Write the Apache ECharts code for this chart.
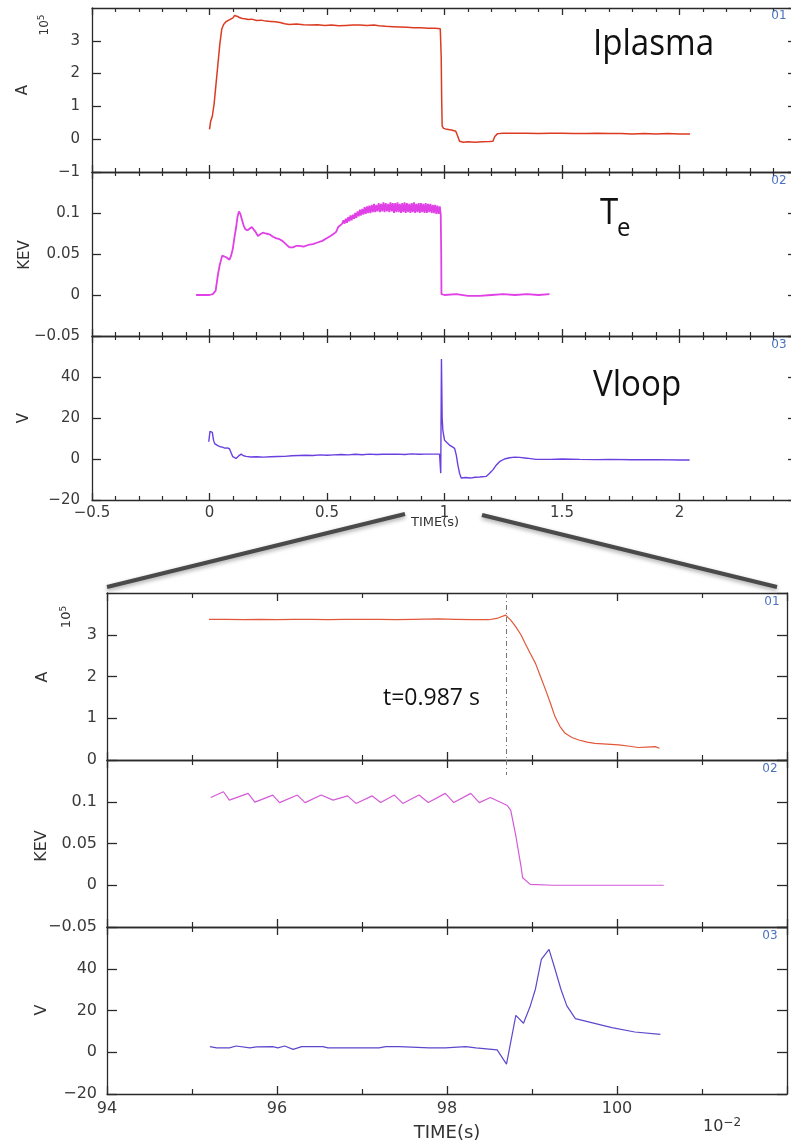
<!DOCTYPE html>
<html><head><meta charset="utf-8">
<script src="https://cdn.jsdelivr.net/npm/echarts@6/dist/echarts.min.js"></script>
<style>html,body{margin:0;padding:0;background:#fff}#c{width:791px;height:1146px}</style>
</head><body><div id="c"></div>
<script>
// ---------- overview shot (time in s) ----------
const ipTime = [0.000,0.005,0.012,0.020,0.028,0.036,0.044,0.052,0.060,0.070,0.080,0.090,0.100,0.106,0.112,0.120,0.130,0.140,0.150,0.165,0.180,0.200,0.220,0.240,0.260,0.280,0.300,0.320,0.340,0.370,0.400,0.430,0.460,0.490,0.520,0.550,0.580,0.610,0.640,0.670,0.700,0.720,0.750,0.780,0.810,0.840,0.870,0.900,0.930,0.960,0.982,0.986,0.988,0.990,0.996,1.010,1.030,1.048,1.056,1.064,1.080,1.100,1.130,1.160,1.190,1.206,1.214,1.226,1.250,1.300,1.350,1.400,1.450,1.500,1.550,1.600,1.650,1.700,1.750,1.800,1.850,1.900,1.950,2.000,2.045];
const ipAmp = [0.30,0.55,0.70,1.10,1.70,2.30,2.90,3.35,3.50,3.58,3.62,3.66,3.70,3.77,3.72,3.74,3.70,3.68,3.67,3.65,3.66,3.62,3.63,3.60,3.59,3.58,3.56,3.52,3.50,3.51,3.49,3.48,3.49,3.47,3.48,3.46,3.47,3.48,3.48,3.47,3.48,3.46,3.44,3.43,3.42,3.41,3.40,3.40,3.38,3.38,3.37,2.50,1.20,0.40,0.33,0.30,0.28,0.24,0.10,-0.06,-0.09,-0.08,-0.09,-0.08,-0.07,-0.06,0.08,0.17,0.18,0.18,0.18,0.17,0.18,0.18,0.17,0.17,0.18,0.17,0.17,0.16,0.17,0.16,0.17,0.16,0.16];

const teTime = [-0.057,-0.030,0.000,0.014,0.026,0.036,0.043,0.054,0.062,0.071,0.085,0.092,0.099,0.106,0.113,0.119,0.125,0.131,0.139,0.146,0.153,0.162,0.170,0.180,0.187,0.196,0.206,0.216,0.227,0.240,0.255,0.270,0.285,0.298,0.310,0.325,0.340,0.355,0.370,0.383,0.400,0.420,0.440,0.460,0.480,0.497,0.515,0.530,0.539,0.548,0.556,0.565,
0.570,0.575,0.580,0.585,0.590,0.595,0.600,0.605,0.610,0.615,0.620,0.625,0.630,0.635,0.640,0.645,0.650,0.655,0.660,0.665,0.670,0.675,0.680,0.685,0.690,0.695,0.700,0.705,0.710,0.715,0.720,0.725,0.730,0.735,0.740,0.745,0.750,0.755,0.760,0.765,0.770,0.775,0.780,0.785,0.790,0.795,0.800,0.805,0.810,0.815,0.820,0.825,0.830,0.835,0.840,0.845,0.850,0.855,0.860,0.865,0.870,0.875,0.880,0.885,0.890,0.895,0.900,0.905,0.910,0.915,0.920,0.925,0.930,0.935,0.940,0.945,0.950,0.955,0.960,0.965,0.970,0.975,0.980,0.984,0.986,0.987,1.000,1.050,1.100,1.150,1.200,1.250,1.300,1.350,1.400,1.447];
const teKev = [0.000,0.000,0.000,0.001,0.005,0.025,0.036,0.048,0.047,0.046,0.043,0.048,0.056,0.070,0.082,0.095,0.102,0.099,0.091,0.084,0.080,0.079,0.081,0.083,0.085,0.077,0.072,0.074,0.076,0.075,0.074,0.071,0.069,0.068,0.066,0.062,0.058,0.058,0.060,0.060,0.059,0.061,0.062,0.064,0.066,0.069,0.072,0.075,0.077,0.083,0.085,0.087,
0.091,0.087,0.093,0.088,0.095,0.090,0.097,0.091,0.098,0.093,0.100,0.094,0.102,0.096,0.104,0.097,0.105,0.098,0.107,0.099,0.108,0.100,0.109,0.100,0.110,0.101,0.111,0.101,0.110,0.102,0.112,0.101,0.111,0.102,0.113,0.101,0.112,0.102,0.111,0.101,0.113,0.102,0.112,0.100,0.112,0.101,0.113,0.101,0.111,0.100,0.112,0.101,0.113,0.100,0.112,0.101,0.111,0.100,0.112,0.101,0.113,0.100,0.111,0.101,0.112,0.100,0.112,0.101,0.111,0.100,0.112,0.100,0.111,0.101,0.111,0.100,0.110,0.100,0.110,0.099,0.109,0.099,0.108,0.098,0.050,0.001,0.000,0.001,-0.001,-0.001,0.000,0.001,0.000,0.001,0.000,0.001];

const vlTime = [-0.003,0.002,0.008,0.012,0.017,0.022,0.026,0.035,0.045,0.055,0.065,0.075,0.085,0.092,0.099,0.106,0.113,0.124,0.135,0.145,0.156,0.175,0.200,0.230,0.260,0.290,0.320,0.350,0.380,0.410,0.440,0.470,0.500,0.530,0.560,0.590,0.620,0.650,0.680,0.710,0.740,0.770,0.800,0.830,0.860,0.890,0.920,0.950,0.979,0.984,0.987,0.990,0.993,1.000,1.010,1.021,1.032,1.043,1.050,1.057,1.064,1.071,1.090,1.110,1.130,1.150,1.177,1.190,1.206,1.220,1.234,1.255,1.277,1.300,1.320,1.350,1.390,1.450,1.500,1.576,1.650,1.700,1.800,1.900,2.000,2.043];
const vlVolt = [8.4,13.5,14.2,13.0,9.2,7.5,6.8,6.5,6.0,5.8,5.3,5.4,5.0,3.0,1.1,0.2,0.3,1.5,2.4,1.6,1.3,1.0,1.1,0.9,1.1,1.2,1.3,1.6,1.7,1.8,1.7,2.0,1.8,2.0,2.2,2.0,2.3,2.1,2.4,2.2,2.3,2.3,2.4,2.2,2.5,2.3,2.4,2.4,2.4,-6.9,48.8,20.0,14.0,9.2,8.0,6.8,6.0,5.2,2.0,-3.0,-6.9,-9.3,-9.0,-9.3,-8.9,-8.8,-8.5,-7.2,-5.3,-3.0,-1.3,0.0,0.6,0.9,0.8,0.4,-0.2,-0.2,0.0,-0.2,-0.3,-0.2,-0.4,-0.3,-0.5,-0.5];

// ---------- zoom around disruption (time in 10^-2 s) ----------
const zIpTime = [95.20,95.40,95.60,95.80,96.00,96.20,96.40,96.60,96.80,97.00,97.20,97.40,97.60,97.90,98.10,98.30,98.49,98.60,98.69,98.75,98.81,98.87,98.92,98.98,99.04,99.10,99.16,99.22,99.27,99.33,99.39,99.47,99.55,99.65,99.74,99.88,100.02,100.15,100.25,100.35,100.45,100.50];
const zIpAmp = [3.37,3.37,3.36,3.37,3.36,3.37,3.37,3.36,3.37,3.37,3.37,3.36,3.37,3.38,3.37,3.36,3.36,3.40,3.47,3.35,3.19,3.00,2.79,2.55,2.32,2.00,1.68,1.34,1.04,0.80,0.64,0.54,0.48,0.43,0.40,0.38,0.36,0.33,0.30,0.31,0.32,0.28];

const zTeTime = [95.22,95.37,95.44,95.66,95.74,95.95,96.03,96.24,96.33,96.52,96.66,96.83,96.93,97.12,97.22,97.38,97.48,97.67,97.78,97.98,98.08,98.28,98.38,98.51,98.71,98.75,98.81,98.87,98.89,98.98,99.24,100.55];
const zTeKev = [0.105,0.112,0.102,0.110,0.0996,0.108,0.099,0.108,0.099,0.108,0.102,0.107,0.098,0.107,0.099,0.108,0.098,0.108,0.099,0.110,0.099,0.110,0.099,0.105,0.0955,0.0896,0.059,0.023,0.009,0.001,0.000,0.000];

const zVlTime = [95.21,95.29,95.44,95.52,95.68,95.76,95.95,96.01,96.09,96.19,96.29,96.54,96.60,97.20,97.28,97.44,97.79,97.98,98.22,98.34,98.59,98.70,98.81,98.90,98.98,99.04,99.11,99.20,99.26,99.34,99.41,99.51,99.70,99.94,100.21,100.51];
const zVlVolt = [2.7,2.1,2.1,3.0,2.1,2.6,2.7,2.1,3.0,1.4,2.7,2.7,2.1,2.1,2.7,2.7,2.1,2.1,2.7,2.1,1.1,-5.7,17.7,13.9,22.2,30.2,44.5,49.3,41.3,30.2,22.2,16.1,14.2,11.8,9.7,8.6];

const disruptionTime = 98.7;
const panelTags = ['01','02','03'];
const yNames = ['A','KEV','V'];
const topXRange = [-0.5, 2.5, 0.5, 5];      // min, max, interval, minor splits
const zoomXRange = [94, 102, 2, 2];
const topYRanges = [[-1, 4, 1], [-0.05, 0.15, 0.05], [-20, 60, 20]];
const zoomYRanges = [[0, 4, 1], [-0.05, 0.15, 0.05], [-20, 60, 20]];

// ---------- build ----------
const FONT = 'DejaVu Sans';
const AX = '#2a2a2a';
const fmt = v => String(v).replace('-', '\u2212');
const zip = (t, v) => t.map((x, i) => [x, v[i]]);

const grid = [], xAxis = [], yAxis = [], series = [];
function addPanel(gi, lay, i, xr, yr, opts) {
  grid.push({left: lay.left, right: lay.right, top: lay.tops[i], height: lay.h, outerBoundsMode: 'none', containLabel: false});
  const axisLine = {show: true, onZero: false, lineStyle: {color: AX, width: 1.3}};
  const xb = {
    type: 'value', gridIndex: gi, min: xr[0], max: xr[1], interval: xr[2],
    axisLine, splitLine: {show: false}, minorSplitLine: {show: false},
    axisTick: {show: true, inside: true, length: opts.xTick, lineStyle: {color: AX, width: 1.3}},
    minorTick: {show: true, splitNumber: xr[3], length: opts.xMinor, lineStyle: {color: AX, width: 1.2}}
  };
  xAxis.push(Object.assign({}, xb, {position: 'bottom',
    axisLabel: {show: i === 2, showMaxLabel: false, margin: opts.xMargin, formatter: fmt, color: '#3a3a3a', fontSize: opts.fs, fontFamily: FONT}}));
  xAxis.push(Object.assign({}, xb, {position: 'top', axisLabel: {show: false}}));
  const yb = {
    type: 'value', gridIndex: gi, min: yr[0], max: yr[1], interval: yr[2],
    axisLine, splitLine: {show: false},
    axisTick: {show: true, inside: true, length: opts.yTick, lineStyle: {color: AX, width: 1.3}}
  };
  yAxis.push(Object.assign({}, yb, {position: 'left',
    axisLabel: {show: true, showMaxLabel: false, margin: opts.yMargin, formatter: fmt, color: '#3a3a3a', fontSize: opts.fs, fontFamily: FONT}}));
  yAxis.push(Object.assign({}, yb, {position: 'right', axisLabel: {show: false}}));
}

const topLay = {left: 92, right: -6, tops: [8, 172, 336], h: 164};
const zoomLay = {left: 107, right: 4, tops: [593, 760, 927], h: 167};
const topOpts = {xTick: 7, xMinor: 4, yTick: 9, xMargin: 6, yMargin: 12, fs: 15};
const zoomOpts = {xTick: 8, xMinor: 5, yTick: 10, xMargin: 7, yMargin: 10, fs: 16};
for (let i = 0; i < 3; i++) addPanel(i, topLay, i, topXRange, topYRanges[i], topOpts);
for (let i = 0; i < 3; i++) addPanel(3 + i, zoomLay, i, zoomXRange, zoomYRanges[i], zoomOpts);

function line(gi, data, color, width, extra) {
  series.push(Object.assign({type: 'line', xAxisIndex: 2 * gi, yAxisIndex: 2 * gi, data, showSymbol: false, symbol: 'none',
    lineStyle: {color, width}, itemStyle: {color}, animation: false, clip: true}, extra || {}));
}
line(0, zip(ipTime, ipAmp), '#dc3b22', 1.5);
line(1, zip(teTime, teKev), '#e040e6', 1.8);
line(2, zip(vlTime, vlVolt), '#6a3fe0', 1.4);
const ml = {silent: true, symbol: 'none', label: {show: false},
  lineStyle: {color: '#777', width: 1, type: [5, 3, 1, 3]}};
line(3, zip(zIpTime, zIpAmp), '#e2573a', 1.2, {markLine: Object.assign({}, ml, {data: [[{coord: [disruptionTime, 4]}, {coord: [disruptionTime, 0]}]]})});
line(4, zip(zTeTime, zTeKev), '#d55ad8', 1.2, {markLine: Object.assign({}, ml, {data: [[{coord: [disruptionTime, 0.15]}, {coord: [disruptionTime, 0.132]}]]})});
line(5, zip(zVlTime, zVlVolt), '#5e47cc', 1.2);

// ---------- decorations / texts ----------
const g = [];
function txt(text, x, y, size, o) {
  o = o || {};
  g.push({type: 'text', x, y, rotation: o.rot || 0, scaleX: o.sx || 1, z: 100,
    style: {text, fontSize: size, fontFamily: o.ff || FONT, fill: o.fill || '#333',
      align: o.align || 'center', verticalAlign: 'middle', rich: o.rich}});
}
const R = Math.PI / 2;
const sup = {s: {fontSize: 9, fontFamily: FONT, fill: '#333', verticalAlign: 'top', padding: [0, 0, 7, 0]}};
// top figure axis names
txt('10{s|5}', 45, 25, 12, {rot: R, rich: sup});
txt('A', 23, 90, 15, {rot: R});
txt(yNames[1], 25, 255, 15, {rot: R});
txt(yNames[2], 24, 418, 15, {rot: R});
txt('TIME(s)', 435, 523, 13);
// zoom figure axis names
txt('10{s|5}', 67, 617, 13, {rot: R, rich: sup});
txt(yNames[0], 43, 677, 16, {rot: R});
txt(yNames[1], 42, 846, 16, {rot: R});
txt(yNames[2], 42, 1010, 16, {rot: R});
txt('TIME(s)', 447, 1133, 18);
txt('10{s|\u22122}', 703, 1127, 16, {align: 'left', rich: {s: {fontSize: 12, fontFamily: FONT, fill: '#333', verticalAlign: 'top', padding: [0, 0, 9, 0]}}});
// panel tags
const tagStyle = {fill: '#4a72bf'};
[[779, 16], [779, 181], [779, 345], [772, 602], [770, 769], [770, 936]].forEach((p, k) =>
  txt(panelTags[k % 3], p[0], p[1], 12, tagStyle));
// annotations
const OS = 'Open Sans';
txt('Iplasma', 593, 45, 36, {align: 'left', ff: OS, fill: '#111', sx: 0.92});
txt('T', 600, 214, 36, {align: 'left', ff: OS, fill: '#111', sx: 0.92});
txt('e', 617, 229, 26, {align: 'left', ff: OS, fill: '#111', sx: 0.92});
txt('Vloop', 593, 386, 36, {align: 'left', ff: OS, fill: '#111', sx: 0.92});
txt('t=0.987 s', 383, 698, 23, {align: 'left', ff: OS, fill: '#111'});
// zoom connector lines
[[107, 587, 405, 514], [482, 515, 777, 587]].forEach(s => g.push({type: 'line', z: 50,
  shape: {x1: s[0], y1: s[1], x2: s[2], y2: s[3]},
  style: {stroke: '#4a4a4a', lineWidth: 4, shadowBlur: 4, shadowColor: 'rgba(0,0,0,0.35)', shadowOffsetY: 2}}));

const chart = echarts.init(document.getElementById('c'), null, {renderer: 'canvas'});
chart.setOption({animation: false, backgroundColor: '#fff', grid, xAxis, yAxis, series, graphic: g});
</script></body></html>
